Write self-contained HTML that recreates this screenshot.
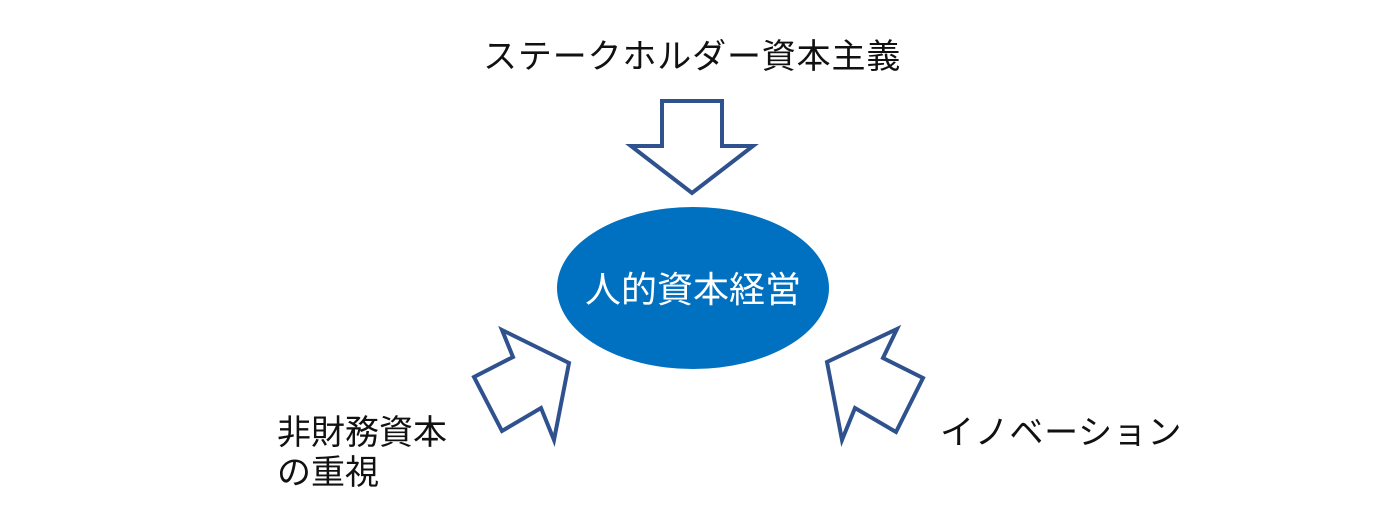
<!DOCTYPE html>
<html><head><meta charset="utf-8"><style>
html,body{margin:0;padding:0;background:#fff;}
body{width:1375px;height:522px;position:relative;overflow:hidden;font-family:"Liberation Sans","Noto Sans CJK JP",sans-serif;}
.t{position:absolute;font-size:34px;color:#111;white-space:nowrap;line-height:40px;}
</style></head><body>
<svg width="1375" height="522" style="position:absolute;left:0;top:0">
<g fill="#fff" stroke="#2f528f" stroke-width="4" stroke-linejoin="miter">
<polygon points="662,101 722,101 722,146 753,146 692,193 631,146 662,146"/>
<polygon points="502,330 569,363 554,440 541,408 502,431 474,377 513,357"/>
<polygon points="897,329 827,362 842,440 855,408 896,432 923,378 883,358"/>
</g>
<ellipse cx="693" cy="288" rx="136" ry="81" fill="#0070c0"/>
<text x="693" y="302" text-anchor="middle" font-size="36" fill="#fff" font-family="Liberation Sans, Noto Sans CJK JP, sans-serif">人的資本経営</text>
</svg>
<div class="t" style="left:483px;top:37px;letter-spacing:0.85px;">ステークホルダー資本主義</div>
<div class="t" style="left:277px;top:413px;">非財務資本<br>の重視</div>
<div class="t" style="left:940px;top:413px;letter-spacing:0.7px;">イノベーション</div>
</body></html>
